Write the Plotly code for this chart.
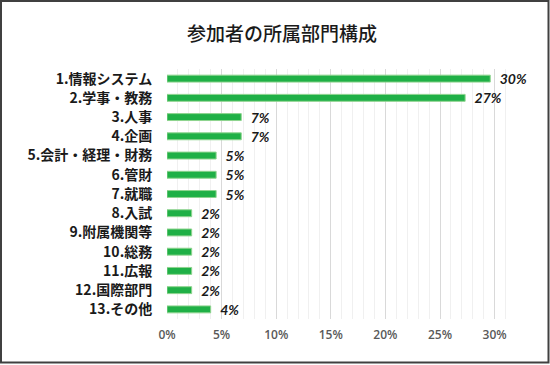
import plotly.graph_objects as go

categories = ["1.情報システム", "2.学事・教務", "3.人事", "4.企画", "5.会計・経理・財務",
              "6.管財", "7.就職", "8.入試", "9.附属機関等", "10.総務", "11.広報",
              "12.国際部門", "13.その他"]
values = [0.296, 0.273, 0.068, 0.068, 0.045, 0.045, 0.045, 0.0226, 0.0226, 0.0226, 0.0226, 0.0226, 0.040]
labels = ["30%", "27%", "7%", "7%", "5%", "5%", "5%", "2%", "2%", "2%", "2%", "2%", "4%"]
tick_vals = [0, 0.05, 0.10, 0.15, 0.20, 0.25, 0.30]
tick_text = ["0%", "5%", "10%", "15%", "20%", "25%", "30%"]

W, H = 550, 365
ML, MR, MT, MB = 167, 33, 69, 46
pw, ph = W - ML - MR, H - MT - MB

fig = go.Figure()
fig.add_trace(go.Bar(
    y=categories, x=values, orientation="h",
    marker=dict(color="#1fb046", line=dict(color="#8fd48f", width=1)),
    text=labels, texttemplate="\u2002%{text}", textposition="outside", constraintext="none",
    textfont=dict(family="Lato", size=14, color="#1a1a1a", weight="bold", style="italic"),
    cliponaxis=False, hoverinfo="skip",
))

def px_x(p):
    return (p - ML) / pw

def px_y(p):
    return (H - MB - p) / ph

fig.add_shape(type="rect", xref="paper", yref="paper",
              x0=px_x(1), x1=px_x(548.5), y0=px_y(362.5), y1=px_y(1),
              line=dict(color="#404040", width=2), fillcolor="rgba(0,0,0,0)")

fig.update_layout(
    width=W, height=H,
    margin=dict(l=ML, r=MR, t=MT, b=MB),
    paper_bgcolor="white", plot_bgcolor="white",
    showlegend=False,
    bargap=0.64,
    title=dict(text="参加者の所属部門構成", x=282 / W, xanchor="center", y=1 - 34 / H, yanchor="middle",
               font=dict(family="Noto Sans CJK JP", size=19, color="#1a1a1a", weight=500)),
    xaxis=dict(range=[0, 0.3205], tickvals=tick_vals, ticktext=tick_text,
               showgrid=True, gridcolor="#d9d9d9", gridwidth=1, zeroline=False,
               showline=False, ticks="outside", ticklen=5, tickcolor="rgba(0,0,0,0)",
               tickfont=dict(family="Open Sans", size=12, color="#595959", weight=600),
               minor=dict(dtick=0.01, tick0=0, showgrid=True, gridcolor="#f0f0f0", gridwidth=1)),
    yaxis=dict(autorange="reversed", showgrid=False, zeroline=False, showline=False,
               ticks="outside", ticklen=11, tickcolor="rgba(0,0,0,0)",
               tickfont=dict(family="Noto Sans CJK JP", size=14, color="#1a1a1a", weight="bold")),
)

fig.write_html("out.html", config={"displayModeBar": False},
               post_script="document.body.style.margin='0';")
